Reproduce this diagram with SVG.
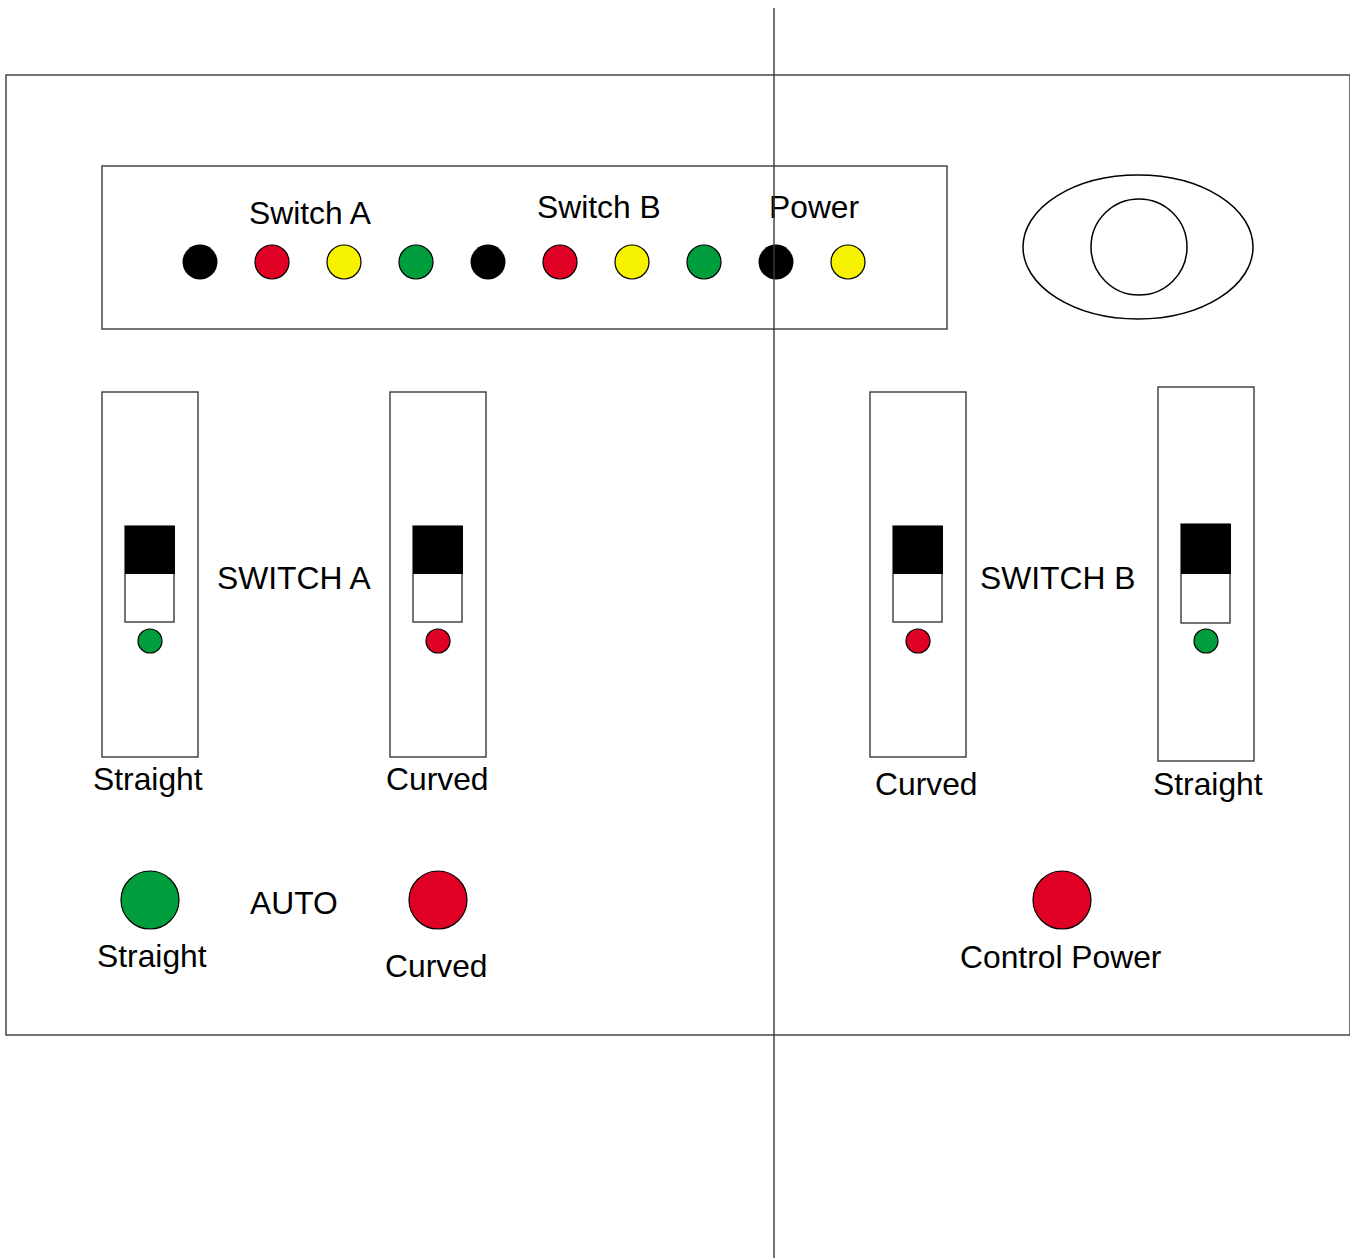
<svg xmlns="http://www.w3.org/2000/svg" width="1350" height="1258" viewBox="0 0 1350 1258">
<style>
.frame{fill:#fff;stroke:#3a3a3a;stroke-width:1.4}
.ln{stroke:#3a3a3a;stroke-width:1.4;fill:none}
.ring{stroke:#000;stroke-width:1.5;fill:none}
.led{stroke:#000;stroke-width:1.2}
.blk{fill:#000}
.red{fill:#e00025}
.yel{fill:#f7f200}
.grn{fill:#009d3c}
.t{font-family:"Liberation Sans",Arial,sans-serif;font-size:31.8px;fill:#000}
.knob{fill:#000}
.slot{fill:#fff;stroke:#3a3a3a;stroke-width:1.4}
</style>
<rect width="1350" height="1258" fill="#fff"/>
<g id="panel">
<rect class="frame" x="6" y="75" width="1344" height="960"/>
</g>
<g id="indicator-panel">
<rect class="frame" x="102" y="166" width="845" height="163"/>
<text class="t" x="249" y="224">Switch A</text>
<text class="t" x="537" y="218">Switch B</text>
<text class="t" x="769" y="218">Power</text>
<circle class="blk" cx="200" cy="262" r="17.5"/>
<circle class="led red" cx="272" cy="262" r="17"/>
<circle class="led yel" cx="344" cy="262" r="17"/>
<circle class="led grn" cx="416" cy="262" r="17"/>
<circle class="blk" cx="488" cy="262" r="17.5"/>
<circle class="led red" cx="560" cy="262" r="17"/>
<circle class="led yel" cx="632" cy="262" r="17"/>
<circle class="led grn" cx="704" cy="262" r="17"/>
<circle class="blk" cx="776" cy="262" r="17.5"/>
<circle class="led yel" cx="848" cy="262" r="17"/>
</g>
<g id="key-switch">
<ellipse class="ring" cx="1138" cy="247" rx="115" ry="72"/>
<circle class="ring" cx="1139" cy="247" r="48"/>
</g>
<g id="switch-a-straight">
<rect class="frame" x="102" y="392" width="96" height="365"/>
<rect class="slot" x="125" y="526" width="49" height="96"/>
<rect class="knob" x="125" y="526" width="50" height="48"/>
<circle class="led grn" cx="150" cy="641" r="12"/>
<text class="t" x="93" y="790">Straight</text>
</g>
<g id="switch-a-curved">
<rect class="frame" x="390" y="392" width="96" height="365"/>
<rect class="slot" x="413" y="526" width="49" height="96"/>
<rect class="knob" x="413" y="526" width="50" height="48"/>
<circle class="led red" cx="438" cy="641" r="12"/>
<text class="t" x="386" y="790">Curved</text>
</g>
<text class="t" x="217" y="589">SWITCH A</text>
<g id="switch-b-curved">
<rect class="frame" x="870" y="392" width="96" height="365"/>
<rect class="slot" x="893" y="526" width="49" height="96"/>
<rect class="knob" x="893" y="526" width="50" height="48"/>
<circle class="led red" cx="918" cy="641" r="12"/>
<text class="t" x="875" y="795">Curved</text>
</g>
<g id="switch-b-straight">
<rect class="frame" x="1158" y="387" width="96" height="374"/>
<rect class="slot" x="1181" y="524" width="49" height="99"/>
<rect class="knob" x="1181" y="524" width="50" height="50"/>
<circle class="led grn" cx="1206" cy="641" r="12"/>
<text class="t" x="1153" y="795">Straight</text>
</g>
<text class="t" x="980" y="589">SWITCH B</text>
<g id="auto">
<circle class="led grn" cx="150" cy="900" r="29"/>
<text class="t" x="97" y="967">Straight</text>
<text class="t" x="250" y="914">AUTO</text>
<circle class="led red" cx="438" cy="900" r="29"/>
<text class="t" x="385" y="977">Curved</text>
</g>
<g id="control-power">
<circle class="led red" cx="1062" cy="900" r="29"/>
<text class="t" x="960" y="968">Control Power</text>
</g>
<g id="connectors">
<line class="ln" x1="774" y1="8" x2="774" y2="1258"/>
</g>
</svg>
